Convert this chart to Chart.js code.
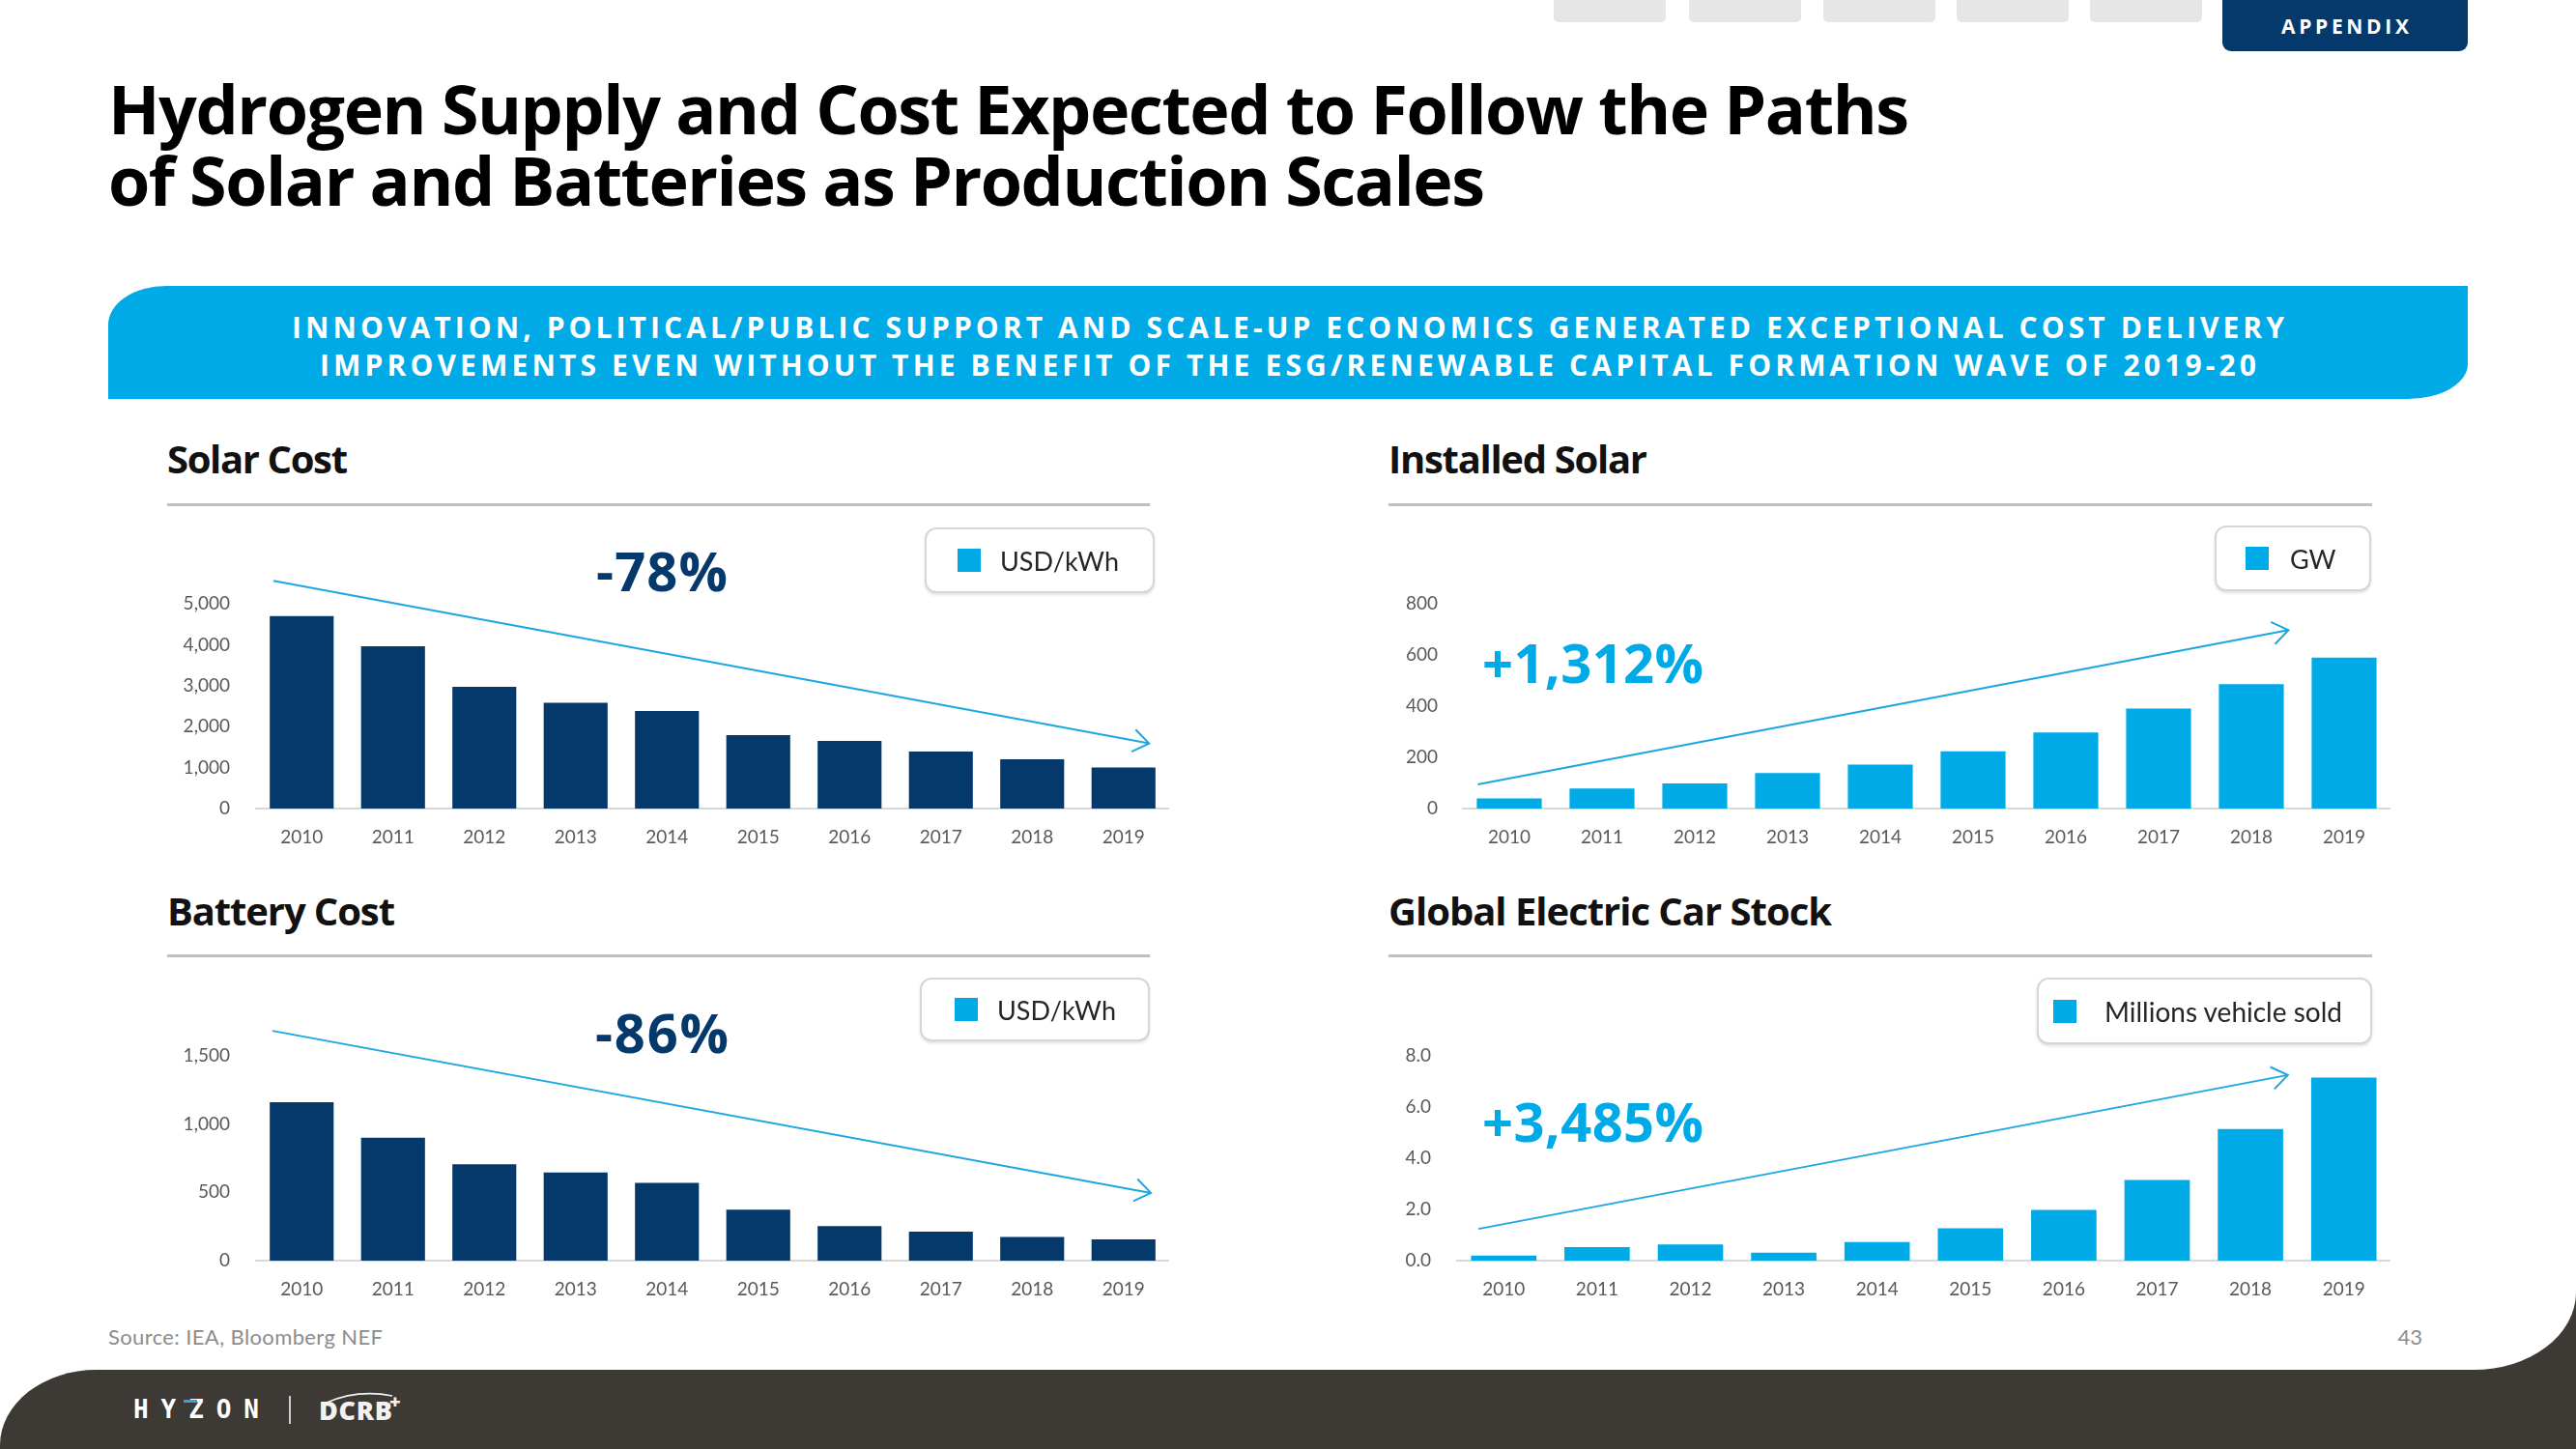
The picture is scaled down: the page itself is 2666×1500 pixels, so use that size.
<!DOCTYPE html>
<html>
<head>
<meta charset="utf-8">
<script src="https://cdn.jsdelivr.net/npm/chart.js@4.4.1/dist/chart.umd.min.js"></script>
<style>
html,body{margin:0;padding:0;width:2666px;height:1500px;overflow:hidden;background:#fff;}
.box{position:absolute;}
.t{position:absolute;white-space:nowrap;line-height:1;}
canvas{position:absolute;}
.legend{position:absolute;box-sizing:border-box;border:2px solid #D6D6D6;border-radius:12px;background:#fff;
  box-shadow:0 2px 3px rgba(0,0,0,0.12);display:flex;align-items:center;font-family:Lato,'Open Sans',sans-serif;color:#262626;}
.legend .sq{width:24px;height:24px;background:#00AAE7;flex:none;}
</style>
</head>
<body>
<script>
// ---------------- DATA ----------------
const years = ['2010','2011','2012','2013','2014','2015','2016','2017','2018','2019'];

const solarCostLabel = 'USD/kWh';
const solarCostValues = [4700, 3960, 2970, 2580, 2380, 1790, 1650, 1390, 1200, 1000];
const solarCostTicks = [0, 1000, 2000, 3000, 4000, 5000];
const solarCostTrend = [[-0.31, 5560], [9.28, 1590]];
const solarCostChange = '-78%';

const batteryCostLabel = 'USD/kWh';
const batteryCostValues = [1160, 900, 705, 645, 570, 373, 253, 212, 173, 156];
const batteryCostTicks = [0, 500, 1000, 1500];
const batteryCostTrend = [[-0.32, 1683], [9.30, 496]];
const batteryCostChange = '-86%';

const installedSolarLabel = 'GW';
const installedSolarValues = [40, 78, 98, 139, 172, 224, 297, 391, 486, 590];
const installedSolarTicks = [0, 200, 400, 600, 800];
const installedSolarTrend = [[-0.34, 94], [8.40, 697]];
const installedSolarChange = '+1,312%';

const evStockLabel = 'Millions vehicle sold';
const evStockValues = [0.2, 0.53, 0.63, 0.31, 0.73, 1.26, 1.98, 3.15, 5.14, 7.15];
const evStockTicks = [0, 2, 4, 6, 8];
const evStockTrend = [[-0.27, 1.24], [8.40, 7.25]];
const evStockChange = '+3,485%';

// ---------------- STYLE ----------------
const NAVY = '#05396C';
const BLUE = '#00AAE7';
const DARK = '#3D3935';
const HEAD = "'Open Sans','Noto Sans',sans-serif";
const BODY = "Lato,'Open Sans',sans-serif";

function rect(x, y, w, h, css){
  const d = document.createElement('div');
  d.className = 'box';
  d.style.cssText += `left:${x}px;top:${y}px;width:${w}px;height:${h}px;` + (css||'');
  document.body.appendChild(d);
  return d;
}

function placeText(str, o){
  const d = document.createElement('div');
  d.className = 't';
  d.style.fontFamily = o.family || HEAD;
  d.style.fontSize = o.size + 'px';
  d.style.fontWeight = o.weight || 400;
  d.style.color = o.color || '#000';
  if (o.italic) d.style.fontStyle = 'italic';
  d.style.left = '0px'; d.style.top = '0px';
  d.appendChild(document.createTextNode(str));
  const mark = document.createElement('span');
  mark.style.cssText = 'display:inline-block;width:0;height:0;vertical-align:baseline';
  d.appendChild(mark);
  document.body.appendChild(d);
  const n = [...str].length;
  let ls = 0;
  if (o.width && n > 1){
    const w0 = d.getBoundingClientRect().width;
    ls = (o.width - w0) / (n - 1);
    d.style.letterSpacing = ls + 'px';
  }
  const vis = d.getBoundingClientRect().width - ls;
  const base = mark.getBoundingClientRect().top - d.getBoundingClientRect().top;
  let left = o.x;
  if (o.align === 'center') left = o.x - vis / 2;
  else if (o.align === 'right') left = o.x - vis;
  d.style.left = left + 'px';
  d.style.top = (o.baseline - base) + 'px';
  return d;
}

// ---------------- BACKGROUND SHAPES ----------------
[1608, 1748, 1887, 2025, 2163].forEach(x => rect(x, 0, 116, 23, 'background:#E6E6E6;border-radius:0 0 5px 5px;'));
rect(2300, 0, 254, 53, `background:${NAVY};border-radius:0 0 9px 9px;`);
rect(112, 296, 2442, 117, `background:${BLUE};border-radius:60px 0 62px 0 / 40px 0 36px 0;`);
rect(2500, 1290, 166, 140, `background:${DARK};`);
rect(2380, 1200, 286, 218, `background:#fff;border-bottom-right-radius:106px 80px;`);
rect(0, 1418, 2666, 82, `background:${DARK};border-top-left-radius:100px 78px;`);
rect(173, 521, 1017, 3, 'background:#BFBFBF;');
rect(1437, 521, 1018, 3, 'background:#BFBFBF;');
rect(173, 988, 1017, 3, 'background:#BFBFBF;');
rect(1437, 988, 1018, 3, 'background:#BFBFBF;');

// ---------------- TEXT ----------------
placeText('APPENDIX', {x: 2427, baseline: 35, size: 21, weight: 700, color: '#fff', width: 132, align: 'center'});
placeText('Hydrogen Supply and Cost Expected to Follow the Paths', {x: 112, baseline: 139, size: 70, weight: 700, color: '#000', width: 1864});
placeText('of Solar and Batteries as Production Scales', {x: 112, baseline: 213, size: 70, weight: 700, color: '#000', width: 1425});
placeText('INNOVATION, POLITICAL/PUBLIC SUPPORT AND SCALE-UP ECONOMICS GENERATED EXCEPTIONAL COST DELIVERY', {x: 1333, baseline: 350, size: 30, weight: 700, color: '#fff', width: 2062, align: 'center'});
placeText('IMPROVEMENTS EVEN WITHOUT THE BENEFIT OF THE ESG/RENEWABLE CAPITAL FORMATION WAVE OF 2019-20', {x: 1333, baseline: 389, size: 30, weight: 700, color: '#fff', width: 2004, align: 'center'});

placeText('Solar Cost', {x: 173, baseline: 490, size: 40, weight: 700, color: '#111', width: 187});
placeText('Installed Solar', {x: 1437, baseline: 490, size: 40, weight: 700, color: '#111', width: 268});
placeText('Battery Cost', {x: 173, baseline: 958, size: 40, weight: 700, color: '#111', width: 236});
placeText('Global Electric Car Stock', {x: 1437, baseline: 958, size: 40, weight: 700, color: '#111', width: 459});

placeText(solarCostChange, {x: 685, baseline: 612, size: 56, weight: 700, color: NAVY, width: 136, align: 'center'});
placeText(batteryCostChange, {x: 685, baseline: 1090, size: 56, weight: 700, color: NAVY, width: 138, align: 'center'});
placeText(installedSolarChange, {x: 1534, baseline: 707, size: 56, weight: 700, color: BLUE, width: 229});
placeText(evStockChange, {x: 1534, baseline: 1182, size: 56, weight: 700, color: BLUE, width: 229});

placeText('Source: IEA, Bloomberg NEF', {x: 112, baseline: 1392, size: 22, family: BODY, color: '#8C8C8C', width: 284});
placeText('43', {x: 2507, baseline: 1392, size: 22, family: BODY, color: '#8C8C8C', align: 'right'});

// footer logos
placeText('HYZON', {x: 138, baseline: 1468, size: 26, weight: 700, family: "'DejaVu Sans Mono',monospace", color: '#fff', width: 130});
rect(190, 1449, 14, 3, 'background:#3AA0D8;');
rect(299, 1445, 2, 29, 'background:#cfcfcf;');
placeText('DCRB', {x: 330, baseline: 1470, size: 27, weight: 800, color: '#F2F2F2', width: 76});
placeText('+', {x: 403, baseline: 1458, size: 20, weight: 800, color: '#F2F2F2'});
(function(){
  const s = document.createElementNS('http://www.w3.org/2000/svg','svg');
  s.setAttribute('width','90'); s.setAttribute('height','20');
  s.style.cssText = 'position:absolute;left:330px;top:1436px;';
  s.innerHTML = '<path d="M8 16 Q40 2 76 9" stroke="#F2F2F2" stroke-width="1.6" fill="none"/>';
  document.body.appendChild(s);
})();

// ---------------- CHARTS ----------------
const trendArrow = {
  id: 'trendArrow',
  afterDatasetsDraw(chart, args, opts){
    const xs = chart.scales.x, ys = chart.scales.y, ctx = chart.ctx;
    const x1 = xs.getPixelForValue(opts.from[0]), y1 = ys.getPixelForValue(opts.from[1]);
    const x2 = xs.getPixelForValue(opts.to[0]), y2 = ys.getPixelForValue(opts.to[1]);
    const a = Math.atan2(y2 - y1, x2 - x1), L = 20, sp = 0.62;
    ctx.save();
    ctx.strokeStyle = '#1DA7E0';
    ctx.lineWidth = 2;
    ctx.beginPath(); ctx.moveTo(x1, y1); ctx.lineTo(x2, y2); ctx.stroke();
    ctx.beginPath();
    ctx.moveTo(x2 - L * Math.cos(a - sp), y2 - L * Math.sin(a - sp));
    ctx.lineTo(x2, y2);
    ctx.lineTo(x2 - L * Math.cos(a + sp), y2 - L * Math.sin(a + sp));
    ctx.stroke();
    ctx.restore();
  }
};

function makeBar(c){
  const cv = document.createElement('canvas');
  cv.width = c.w; cv.height = c.h;
  cv.style.left = c.left + 'px'; cv.style.top = c.top + 'px';
  document.body.appendChild(cv);
  const tickFont = {family: 'Lato', size: 19};
  const chart = new Chart(cv, {
    type: 'bar',
    data: {labels: years, datasets: [{label: c.label, data: c.values, backgroundColor: c.color, borderWidth: 0,
      barPercentage: 0.7, categoryPercentage: 1}]},
    options: {
      responsive: false, animation: false, devicePixelRatio: 1,
      layout: {padding: {top: c.padTop, left: 0, right: 0, bottom: 0}},
      plugins: {legend: {display: false}, tooltip: {enabled: false}, trendArrow: {from: c.trend[0], to: c.trend[1]}},
      scales: {
        x: {grid: {display: false, drawTicks: false}, border: {display: true, color: '#D9D9D9', width: 2},
            ticks: {color: '#595959', font: tickFont, padding: 18, maxRotation: 0, autoSkip: false},
            afterFit(s){ s.height = 50; }},
        y: {min: 0, max: c.ticks[c.ticks.length - 1], grid: {display: false, drawTicks: false}, border: {display: false},
            ticks: {color: '#595959', font: tickFont, padding: c.yPad, callback: c.fmt},
            afterBuildTicks(s){ s.ticks = c.ticks.map(v => ({value: v})); },
            afterFit(s){ s.width = c.yW; }}
      }
    },
    plugins: [trendArrow]
  });
  return chart;
}

function makeLegend(chart, o){
  const d = document.createElement('div');
  d.className = 'legend';
  d.style.cssText += `left:${o.x}px;top:${o.y}px;width:${o.w}px;height:${o.h}px;padding-left:${o.pad}px;gap:${o.gap}px;font-size:${o.fs}px;`;
  const sq = document.createElement('div'); sq.className = 'sq';
  const tx = document.createElement('span'); tx.textContent = chart.data.datasets[0].label;
  d.appendChild(sq); d.appendChild(tx);
  document.body.appendChild(d);
}

const thousands = v => Number(v).toLocaleString('en-US');
const oneDec = v => Number(v).toFixed(1);

const c1 = makeBar({left: 150, top: 540, w: 1060, h: 347, padTop: 85, yW: 115, yPad: 27,
  label: solarCostLabel, values: solarCostValues, ticks: solarCostTicks, trend: solarCostTrend, color: NAVY, fmt: thousands});
const c2 = makeBar({left: 150, top: 1000, w: 1060, h: 355, padTop: 93, yW: 115, yPad: 27,
  label: batteryCostLabel, values: batteryCostValues, ticks: batteryCostTicks, trend: batteryCostTrend, color: NAVY, fmt: thousands});
const c3 = makeBar({left: 1400, top: 540, w: 1074, h: 347, padTop: 85, yW: 114, yPad: 26,
  label: installedSolarLabel, values: installedSolarValues, ticks: installedSolarTicks, trend: installedSolarTrend, color: BLUE, fmt: thousands});
const c4 = makeBar({left: 1400, top: 1000, w: 1074, h: 355, padTop: 93, yW: 108, yPad: 27,
  label: evStockLabel, values: evStockValues, ticks: evStockTicks, trend: evStockTrend, color: BLUE, fmt: oneDec});

makeLegend(c1, {x: 957, y: 546, w: 238, h: 68, pad: 32, gap: 20, fs: 27});
makeLegend(c2, {x: 952, y: 1012, w: 238, h: 66, pad: 34, gap: 20, fs: 27});
makeLegend(c3, {x: 2292, y: 544, w: 162, h: 68, pad: 30, gap: 22, fs: 27});
makeLegend(c4, {x: 2108, y: 1012, w: 347, h: 69, pad: 15, gap: 29, fs: 28});
</script>
</body>
</html>
